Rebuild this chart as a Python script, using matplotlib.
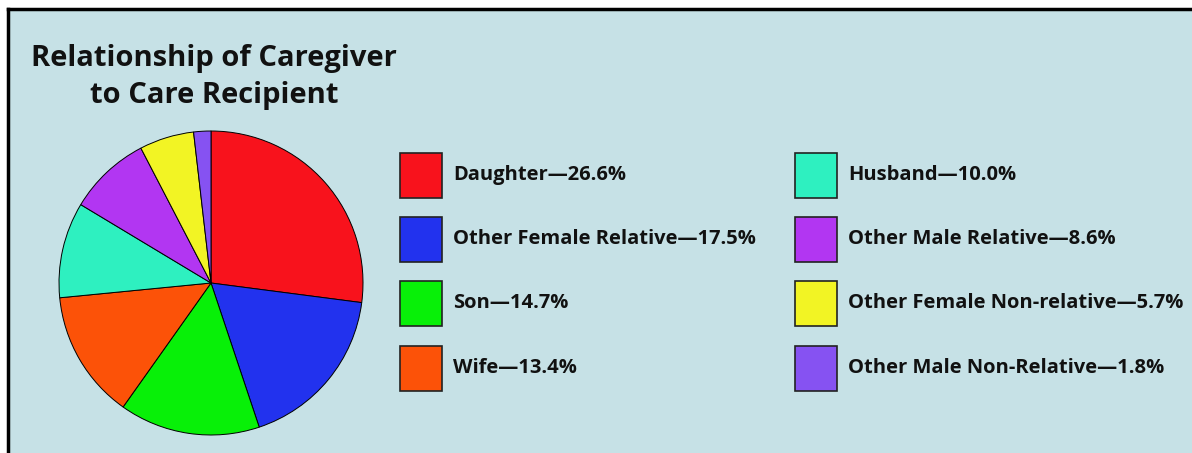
import matplotlib.pyplot as plt
from matplotlib.patches import Rectangle

categories = ["Daughter", "Other Female Relative", "Son", "Wife",
              "Husband", "Other Male Relative", "Other Female Non-relative",
              "Other Male Non-Relative"]
values = [26.6, 17.5, 14.7, 13.4, 10.0, 8.6, 5.7, 1.8]
colors = ["#f8121c", "#2232ee", "#08f008", "#fc5208",
          "#2ef0c0", "#b236f2", "#f2f424", "#8652f2"]
title = "Relationship of Caregiver\nto Care Recipient"

W, H = 1192, 453
bg = "#c6e1e6"
font = "Open Sans"

fig = plt.figure(figsize=(W / 100, H / 100), dpi=100)
fig.patch.set_facecolor("white")

# textured panel, black rule only on top and left
panel = fig.add_axes([8 / W, 0, 1 - 8 / W, (H - 9) / H])
panel.set_facecolor(bg)
panel.set_xticks([])
panel.set_yticks([])
for s in ["right", "bottom"]:
    panel.spines[s].set_visible(False)
for s in ["top", "left"]:
    panel.spines[s].set_linewidth(2.5)
    panel.spines[s].set_color("black")

fig.text(214 / W, 1 - 77 / H, title, ha="center", va="center",
         fontsize=21, fontweight="bold", family=font, linespacing=1.38,
         color="#111111")

# pie
cx, cy, r = 211, H - 283, 152
ax = fig.add_axes([(cx - r) / W, (cy - r) / H, 2 * r / W, 2 * r / H])
ax.pie(values, colors=colors, startangle=90, counterclock=False,
       wedgeprops=dict(edgecolor="black", linewidth=0.7))
ax.set_xlim(-1, 1)
ax.set_ylim(-1, 1)
ax.set_aspect("equal")
ax.axis("off")

# legend, two columns of four
col_x = [400, 795]
row_y = [153, 217, 281, 346]
for i, (name, val, c) in enumerate(zip(categories, values, colors)):
    x0 = col_x[i // 4]
    y0 = row_y[i % 4]
    fig.patches.append(Rectangle((x0, H - y0 - 45), 42, 45, transform=None,
                                 facecolor=c, edgecolor="#222222",
                                 linewidth=1.2))
    fig.text((x0 + 53) / W, 1 - (y0 + 22) / H, f"{name}\u2014{val:.1f}%",
             ha="left", va="center", fontsize=14.5, fontweight="bold",
             family=font, color="#111111")

fig.savefig("out.png", dpi=100, facecolor=fig.get_facecolor())
